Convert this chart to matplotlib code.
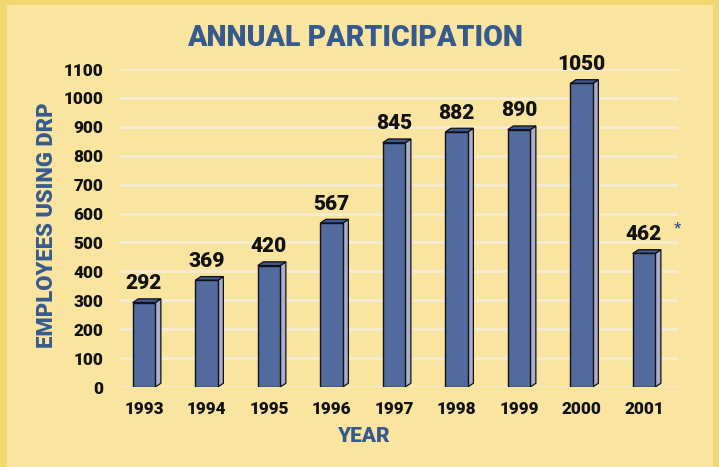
import matplotlib
matplotlib.use("Agg")
import matplotlib.pyplot as plt
from matplotlib.patches import Polygon, Rectangle

years = ["1993", "1994", "1995", "1996", "1997", "1998", "1999", "2000", "2001"]
values = [292, 369, 420, 567, 845, 882, 890, 1050, 462]
value_labels = ["292", "369", "420", "567", "845", "882", "890", "1050", "462"]
yticks = [0, 100, 200, 300, 400, 500, 600, 700, 800, 900, 1000, 1100]

BG = "#F9E4A0"
BORDER = "#F1D870"
FRONT = "#536A9E"
SIDE = "#A9AFCA"
TOP = "#3C5690"
BLUE = "#375A8E"
GRID = "#F6EBCF"
FONT = ["Roboto", "DejaVu Sans"]
W = "black"

fig = plt.figure(figsize=(7.19, 4.67), dpi=100)
fig.patch.set_facecolor(BG)
fig.add_artist(Rectangle((0, 0), 7/719, 1, transform=fig.transFigure, color=BORDER, lw=0))
fig.add_artist(Rectangle((0, 1 - 5/467), 1, 5/467, transform=fig.transFigure, color=BORDER, lw=0))
fig.add_artist(Rectangle((1 - 6/719, 0), 6/719, 1, transform=fig.transFigure, color=BORDER, lw=0))

ax = fig.add_axes([120/719, 1 - 387/467, 558/719, (387 - 69)/467])
ax.set_facecolor("none")
ax.set_xlim(-0.384, 8.544)
ax.set_ylim(0, 1100)
for s in ax.spines.values():
    s.set_visible(False)

for t in yticks:
    ax.axhline(t, color=GRID, lw=2.2, zorder=0)

bw = 0.36
dx = 0.09
dy = 13
for i, v in enumerate(values):
    x0 = i - bw / 2
    x1 = i + bw / 2
    ax.add_patch(Polygon([(x1, 0), (x1 + dx, dy), (x1 + dx, v + dy), (x1, v)],
                         closed=True, facecolor=SIDE, edgecolor="#111111", lw=0.9, zorder=2))
    ax.add_patch(Polygon([(x0, v), (x0 + dx, v + dy), (x1 + dx, v + dy), (x1, v)],
                         closed=True, facecolor=TOP, edgecolor="#111111", lw=0.9, zorder=2))
    ax.add_patch(Rectangle((x0, 0), bw, v, facecolor=FRONT, edgecolor="#111111", lw=1.0, zorder=3))
    ax.annotate(value_labels[i], (i, v + dy), xytext=(0, 4), textcoords="offset points",
                ha="center", va="bottom", fontsize=15, fontweight=W, family=FONT,
                color="#111111", annotation_clip=False)

ax.annotate("*", (len(values) - 1, values[-1] + dy), xytext=(24, 10), textcoords="offset points",
            ha="center", va="bottom", fontsize=11, fontweight=W, family=FONT,
            color=BLUE, annotation_clip=False)

ax.set_xticks(range(len(years)))
ax.set_xticklabels(years)
ax.set_yticks(yticks)
ax.set_yticklabels([str(t) for t in yticks])
ax.tick_params(axis="both", length=0)
ax.tick_params(axis="y", pad=12)
ax.tick_params(axis="x", pad=10)
for lab in ax.get_xticklabels() + ax.get_yticklabels():
    lab.set_fontweight(W)
    lab.set_family(FONT)
    lab.set_color("#111111")
    lab.set_fontsize(12.3)

fig.text(355/719, 1 - 38/467, "ANNUAL PARTICIPATION", ha="center", va="center",
         fontsize=20.6, fontweight=W, family=FONT, color=BLUE)
fig.text(47/719, 1 - 225/467, "EMPLOYEES USING DRP", ha="center", va="center", rotation=90,
         fontsize=15.8, fontweight=W, family=FONT, color=BLUE)
fig.text(363/719, 1 - 437/467, "YEAR", ha="center", va="center",
         fontsize=15, fontweight=W, family=FONT, color=BLUE)

fig.savefig("out.png", dpi=100, facecolor=BG)
